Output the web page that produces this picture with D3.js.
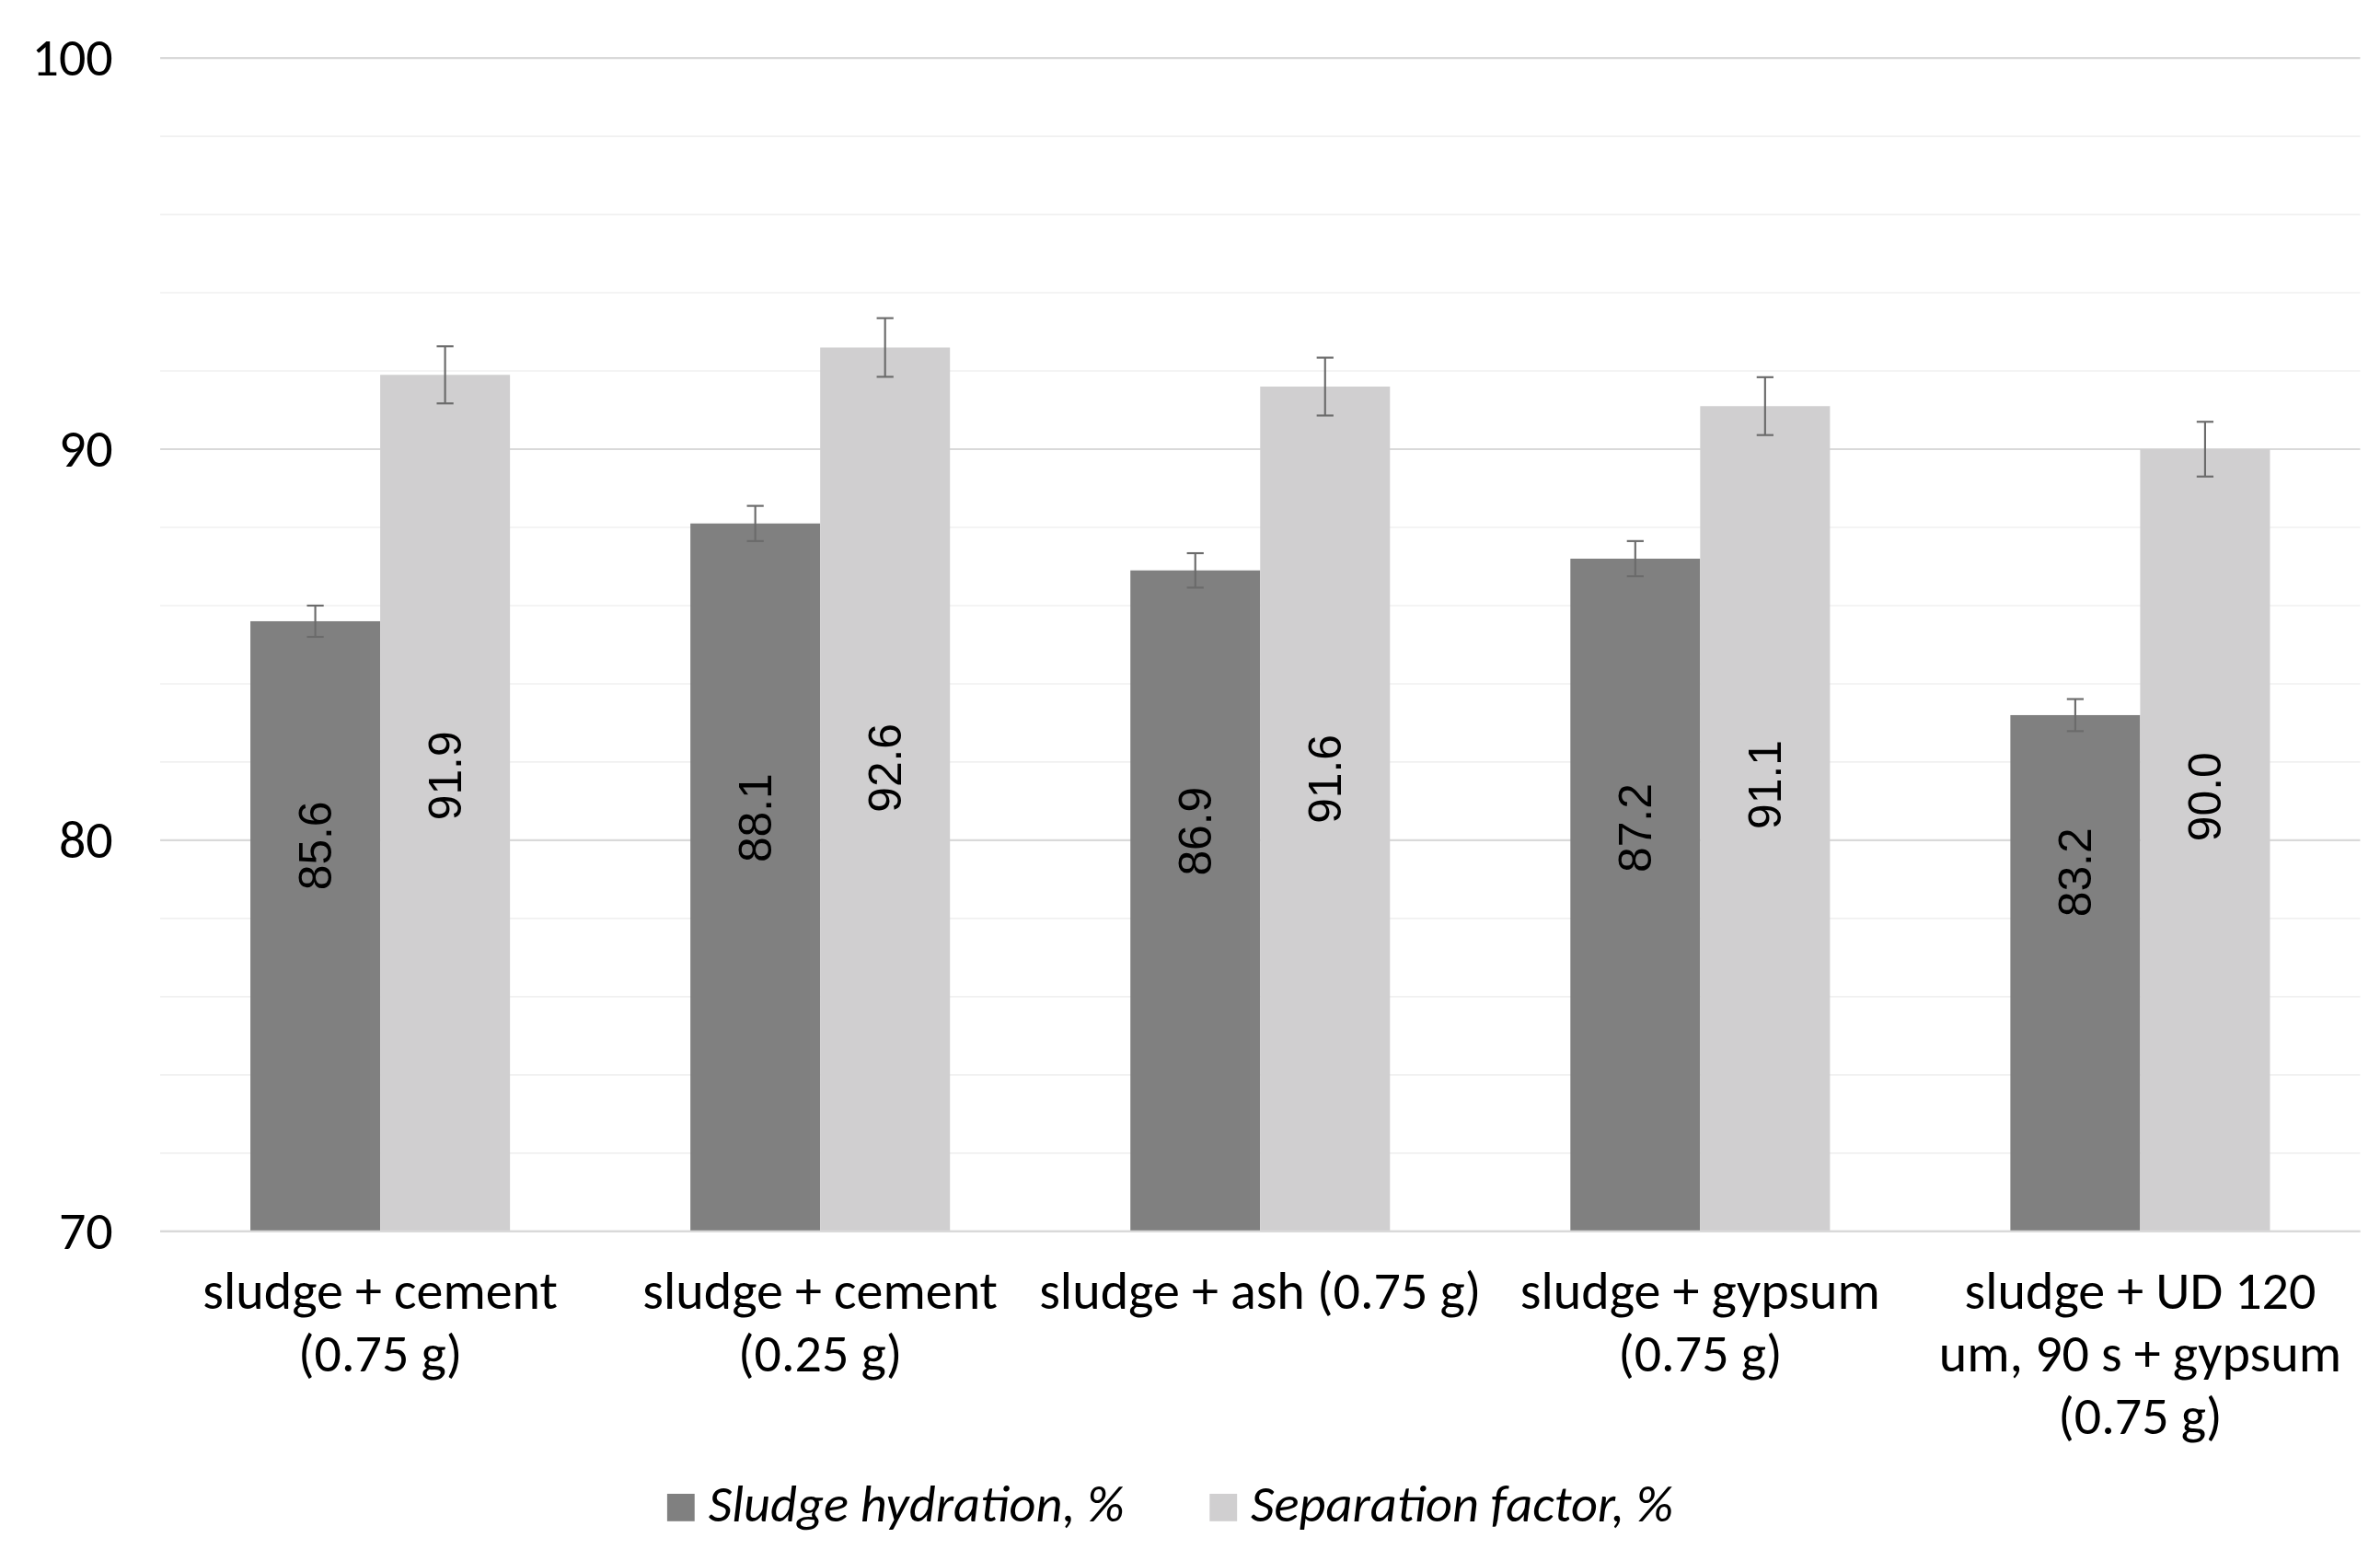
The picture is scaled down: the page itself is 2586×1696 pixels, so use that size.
<!DOCTYPE html>
<html>
<head>
<meta charset="utf-8">
<script src="https://cdn.jsdelivr.net/npm/d3@7"></script>
<style>
    html, body { margin: 0; padding: 0; background: #ffffff; }
    svg { display: block; }
</style>
</head>
<body>
<svg id="chart"></svg>
<script>
// values
const categories = [
    "sludge + cement (0.75 g)",
    "sludge + cement (0.25 g)",
    "sludge + ash (0.75 g)",
    "sludge + gypsum (0.75 g)",
    "sludge + UD 120 um, 90 s + gypsum (0.75 g)"
];
const categoryLines = [
    ["sludge + cement", "(0.75 g)"],
    ["sludge + cement", "(0.25 g)"],
    ["sludge + ash (0.75 g)"],
    ["sludge + gypsum", "(0.75 g)"],
    ["sludge + UD 120", "um, 90 s + gypsum", "(0.75 g)"]
];
const seriesNames = ["Sludge hydration, %", "Separation factor, %"];
const hydration = [85.6, 88.1, 86.9, 87.2, 83.2];
const hydrationError = [0.40, 0.45, 0.44, 0.45, 0.41];
const separation = [91.9, 92.6, 91.6, 91.1, 90.0];
const separationError = [0.73, 0.75, 0.74, 0.74, 0.70];
const yTicks = [70, 80, 90, 100];
const yMinorStep = 2;

const colors = ["#808080", "#d0cfd0"];
const axisFont = "Carlito, Calibri, 'Liberation Sans Narrow', 'Arial Narrow', sans-serif";
const labelFont = "'Liberation Sans', Arial, sans-serif";

class GroupedBarChart {
    constructor(element) {
        this.element = element;
        this.width = 1560;
        this.height = 1023;
        this.margins = { left: 105, right: 13, top: 38, bottom: 216 };

        this.rows = categories.map((category, i) => ({
            category,
            lines: categoryLines[i],
            values: [
                { series: seriesNames[0], value: hydration[i], error: hydrationError[i] },
                { series: seriesNames[1], value: separation[i], error: separationError[i] }
            ]
        }));
    }

    draw() {
        this.svg = d3.select(this.element)
            .attr("width", 2586)
            .attr("height", 1696)
            .attr("viewBox", `0 0 ${this.width} ${this.height}`);

        this.initialize();
        this.drawGrid();
        this.drawAxes();
        this.drawBars();
        this.drawLegend();
    }

    initialize() {
        const plotRight = this.width - this.margins.right;
        const plotBottom = this.height - this.margins.bottom;

        this.scaleX = d3.scaleBand()
            .domain(categories)
            .range([this.margins.left, plotRight])
            .paddingInner(0.41)
            .paddingOuter(0.205);

        this.scaleSeries = d3.scaleBand()
            .domain(seriesNames)
            .range([0, this.scaleX.bandwidth()]);

        this.scaleY = d3.scaleLinear()
            .domain([yTicks[0], yTicks[yTicks.length - 1]])
            .range([plotBottom, this.margins.top]);

        this.color = d3.scaleOrdinal().domain(seriesNames).range(colors);
    }

    drawGrid() {
        const [x0, x1] = this.scaleX.range();
        const minor = d3.range(yTicks[0], yTicks[yTicks.length - 1], yMinorStep)
            .filter(v => !yTicks.includes(v));

        this.svg.append("g").attr("class", "minor-grid")
            .selectAll("line").data(minor).join("line")
            .attr("x1", x0).attr("x2", x1)
            .attr("y1", d => this.scaleY(d)).attr("y2", d => this.scaleY(d))
            .attr("stroke", "#f0f0f0").attr("stroke-width", 1);

        this.svg.append("g").attr("class", "major-grid")
            .selectAll("line").data(yTicks).join("line")
            .attr("x1", x0).attr("x2", x1)
            .attr("y1", d => this.scaleY(d)).attr("y2", d => this.scaleY(d))
            .attr("stroke", "#d9d9d9").attr("stroke-width", 1.3);
    }

    drawAxes() {
        const yAxis = d3.axisLeft(this.scaleY)
            .tickValues(yTicks)
            .tickSize(0)
            .tickPadding(31);

        const yGroup = this.svg.append("g")
            .attr("class", "y-axis")
            .attr("transform", `translate(${this.margins.left}, 0)`)
            .call(yAxis);

        yGroup.select(".domain").remove();
        yGroup.selectAll("text")
            .attr("font-family", axisFont)
            .attr("font-size", 35)
            .attr("fill", "#000");

        const xAxis = d3.axisBottom(this.scaleX).tickSize(0);
        const xGroup = this.svg.append("g")
            .attr("class", "x-axis")
            .attr("transform", `translate(0, ${this.scaleY.range()[0]})`)
            .call(xAxis);

        xGroup.select(".domain").remove();
        xGroup.selectAll("text")
            .attr("font-family", axisFont)
            .attr("font-size", 35)
            .attr("fill", "#000")
            .attr("dy", null)
            .attr("y", 50.5)
            .each((d, i, nodes) => {
                const text = d3.select(nodes[i]).text(null);
                categoryLines[categories.indexOf(d)].forEach((line, j) => {
                    text.append("tspan")
                        .attr("x", 0)
                        .attr("dy", j === 0 ? 0 : 41.2)
                        .text(line);
                });
            });
    }

    drawBars() {
        const groups = this.svg.append("g").attr("class", "bars")
            .selectAll("g").data(this.rows).join("g")
            .attr("transform", d => `translate(${this.scaleX(d.category)}, 0)`);

        const base = this.scaleY(yTicks[0]);
        const bw = this.scaleSeries.bandwidth();

        groups.selectAll("rect").data(d => d.values).join("rect")
            .attr("x", d => this.scaleSeries(d.series))
            .attr("width", bw)
            .attr("y", d => this.scaleY(d.value))
            .attr("height", d => base - this.scaleY(d.value))
            .attr("fill", d => this.color(d.series));

        // axis line sits over the bar bottoms
        this.svg.append("line")
            .attr("x1", this.scaleX.range()[0]).attr("x2", this.scaleX.range()[1])
            .attr("y1", base).attr("y2", base)
            .attr("stroke", "#d9d9d9").attr("stroke-width", 1.3);

        // data labels, rotated, placed a bit below the bar middle like the original
        groups.selectAll("text.value").data(d => d.values).join("text")
            .attr("class", "value")
            .attr("transform", d => {
                const cx = this.scaleSeries(d.series) + bw / 2;
                const cy = this.scaleY(55.55 + 0.284 * d.value);
                return `translate(${cx}, ${cy}) rotate(-90)`;
            })
            .attr("text-anchor", "middle")
            .attr("dominant-baseline", "central")
            .attr("font-family", labelFont)
            .attr("font-size", 30)
            .attr("fill", "#000")
            .text(d => d.value.toFixed(1));

        const capHalf = 5.5;
        const errors = groups.selectAll("g.error").data(d => d.values).join("g")
            .attr("class", "error")
            .attr("stroke", "#6b6b6b")
            .attr("stroke-width", 1.3);

        errors.append("line")
            .attr("x1", d => this.scaleSeries(d.series) + bw / 2)
            .attr("x2", d => this.scaleSeries(d.series) + bw / 2)
            .attr("y1", d => this.scaleY(d.value - d.error))
            .attr("y2", d => this.scaleY(d.value + d.error));

        [1, -1].forEach(sign => {
            errors.append("line")
                .attr("x1", d => this.scaleSeries(d.series) + bw / 2 - capHalf)
                .attr("x2", d => this.scaleSeries(d.series) + bw / 2 + capHalf)
                .attr("y1", d => this.scaleY(d.value + sign * d.error))
                .attr("y2", d => this.scaleY(d.value + sign * d.error));
        });
    }

    drawLegend() {
        const box = 18;
        const boxGap = 9;
        const itemGap = 56;
        const baseline = 997;
        const center = 767;

        const legend = this.svg.append("g").attr("class", "legend");
        const items = legend.selectAll("g").data(seriesNames).join("g");

        items.append("rect")
            .attr("width", box).attr("height", box)
            .attr("y", baseline - box)
            .attr("fill", d => this.color(d));

        items.append("text")
            .attr("x", box + boxGap)
            .attr("y", baseline)
            .attr("font-family", axisFont)
            .attr("font-style", "italic")
            .attr("font-size", 34)
            .attr("fill", "#000")
            .text(d => d);

        let offset = 0;
        const positions = [];
        items.each((d, i, nodes) => {
            const w = box + boxGap + d3.select(nodes[i]).select("text").node().getComputedTextLength();
            positions.push(offset);
            offset += w + itemGap;
        });
        const total = offset - itemGap;
        items.attr("transform", (d, i) => `translate(${center - total / 2 + positions[i]}, 0)`);
    }
}

new GroupedBarChart(document.getElementById("chart")).draw();
</script>
</body>
</html>
